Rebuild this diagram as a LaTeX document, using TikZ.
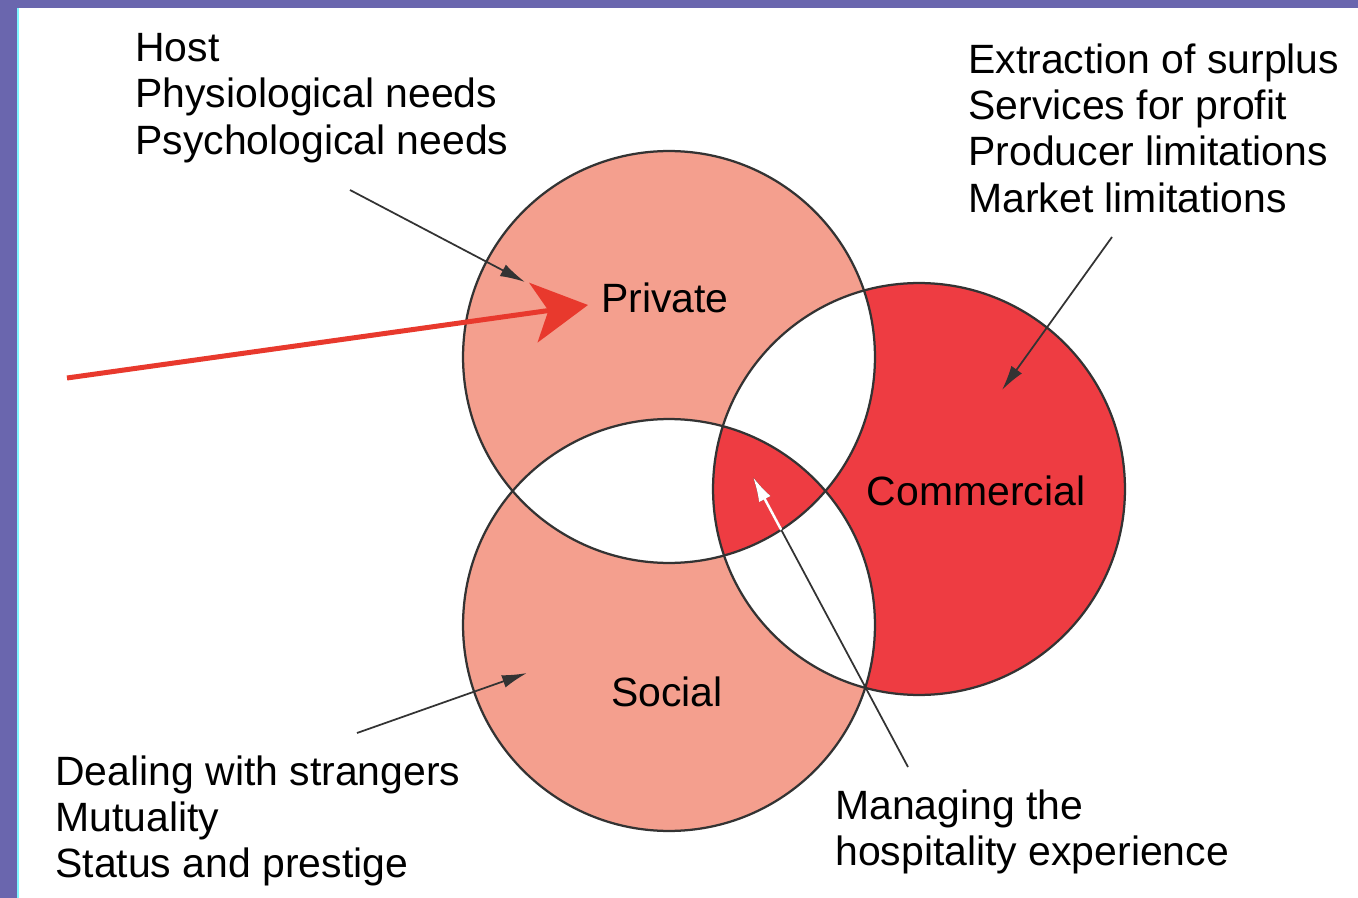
\documentclass[tikz,border=0pt]{standalone}
\usepackage{fontspec}
\setmainfont{Liberation Sans}
\usetikzlibrary{positioning,arrows.meta}
\definecolor{frame}{HTML}{6A66AE}
\definecolor{edge}{HTML}{7FF6FF}
\definecolor{salmon}{HTML}{F49F8E}
\definecolor{comred}{HTML}{EE3C42}
\definecolor{arrowred}{HTML}{E8392D}
\def\rad{4.12cm}
\tikzstyle{listtext}=[anchor=north west,inner sep=0pt,align=left,
  font=\fontsize{23.3}{26.4}\selectfont]
\tikzstyle{ringname}=[inner sep=0pt,font=\fontsize{23.3}{26.4}\selectfont]
\tikzstyle{pointer}=[-{Latex[length=0.5cm,width=0.26cm]},line width=0.035cm,black!80]
\newcommand{\newRing}[3]{\fill[#3] (#1) circle[radius=\rad];}
\newcommand{\newPointer}[3]{\draw[pointer,#3] (#1) -- (#2);}
\begin{document}
\begin{tikzpicture}[x=0.02cm,y=-0.02cm]
      \useasboundingbox (0,0) rectangle (1358,898);
      \fill[frame] (0,0) rectangle (1358,898);
      \fill[white] (18,8) rectangle (1358,898);
      \fill[edge] (17,8) rectangle (19,898);
      % centres of the three rings
      \coordinate (P) at (669,357);
      \coordinate (S) at (669,625);
      \coordinate (C) at (919,489);
      \newRing{P}{Private}{salmon}
      \newRing{S}{Social}{salmon}
      \newRing{C}{Commercial}{comred}
      % pairwise overlaps are white
      \begin{scope}
        \clip (P) circle[radius=\rad];
        \fill[white] (S) circle[radius=\rad];
        \fill[white] (C) circle[radius=\rad];
      \end{scope}
      \begin{scope}
        \clip (S) circle[radius=\rad];
        \fill[white] (C) circle[radius=\rad];
      \end{scope}
      % centre overlap
      \begin{scope}
        \clip (P) circle[radius=\rad];
        \clip (S) circle[radius=\rad];
        \fill[comred] (C) circle[radius=\rad];
      \end{scope}
      \foreach \c in {P,S,C}
        \draw[black!80,line width=0.045cm] (\c) circle[radius=\rad];
      % ring names
      \node[ringname] (private) at (665,298) {Private};
      \node[ringname] (commercial) at (976,491) {Commercial};
      \node[ringname] (social) at (667,692) {Social};
      % lists
      \node[listtext] (host) at (135,33) {Host\\Physiological needs\\Psychological needs};
      \node[listtext] (surplus) at (968,43) {Extraction of surplus\\Services for profit\\Producer limitations\\Market limitations};
      \node[listtext] (strangers) at (55,755) {Dealing with strangers\\Mutuality\\Status and prestige};
      \node[listtext] (managing) at (835,789) {Managing the\\hospitality experience};
      % pointer ends
      \coordinate (hostTail) at (350,190);
      \coordinate (hostTip) at (525,282);
      \coordinate (surplusTail) at (1112,237);
      \coordinate (surplusTip) at (1002,390);
      \coordinate (strangersTail) at (357,733);
      \coordinate (strangersTip) at (527,673);
      \coordinate (managingTail) at (908,767);
      \coordinate (managingTip) at (753,477);
      \coordinate (redTail) at (67,378);
      \coordinate (redTip) at (588,305);
      \newPointer{hostTail}{hostTip}{}
      \newPointer{surplusTail}{surplusTip}{}
      \newPointer{strangersTail}{strangersTip}{}
      \newPointer{managingTail}{managingTip}{}
      \begin{scope}
        \clip (P) circle[radius=\rad];
        \clip (S) circle[radius=\rad];
        \clip (C) circle[radius=\rad];
        \newPointer{managingTail}{managingTip}{white,line width=0.05cm}
      \end{scope}
      \draw[-{Stealth[length=1.1cm,width=1.2cm,inset=0.3cm]},arrowred,line width=0.1cm]
        (redTail) -- (redTip);
\end{tikzpicture}
\end{document}
